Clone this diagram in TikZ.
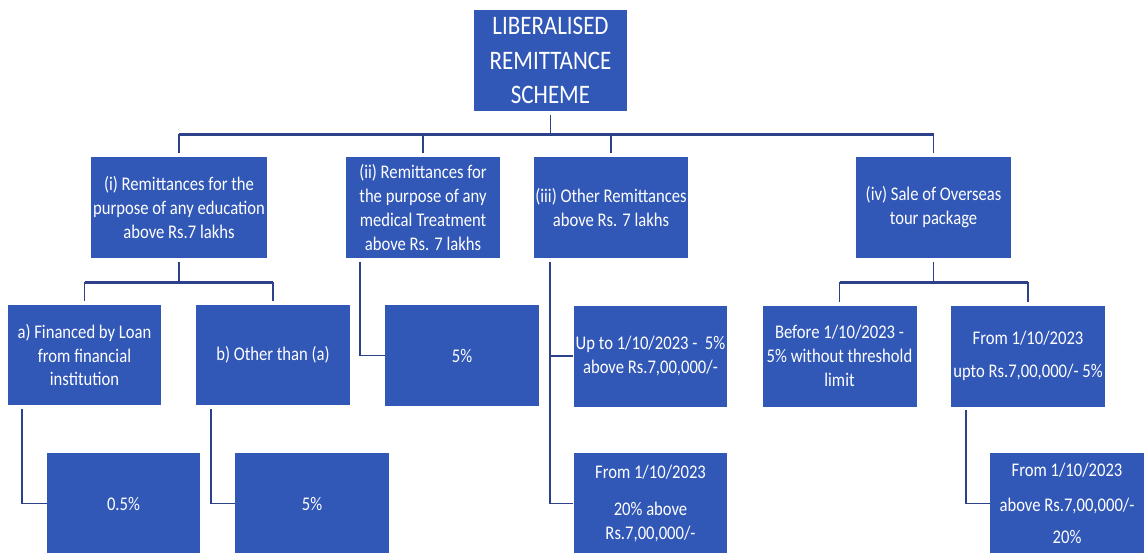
\documentclass[tikz,border=0pt]{standalone}
\usepackage{fontspec}
\setmainfont{Carlito}[FakeStretch=0.86]
\definecolor{boxblue}{HTML}{3157B7}
\definecolor{linenavy}{HTML}{2C4189}

\begin{document}
\begin{tikzpicture}[
  x=0.02cm, y=-0.02cm,
  font=\fontsize{11}{13.6}\selectfont,
  block/.style={fill=boxblue, text=white, align=center, inner sep=0pt, minimum width=3.08cm, minimum height=2.02cm},
  link/.style={draw=linenavy, line width=1pt},
  bus/.style={draw=linenavy, line width=1.7pt}
]
\clip (0,0) rectangle (1145,552);

% Top of the scheme and its four heads
\node[block, minimum width=3.06cm, font=\fontsize{15.2}{19.4}\selectfont] (lrs) at (550.5,60.5) {LIBERALISED\\REMITTANCE\\SCHEME};
\node[block, minimum width=3.52cm] (edu) at (179,207.5) {(i) Remittances for the\\purpose of any education\\above Rs.7 lakhs};
\node[block] (med) at (423,207.5) {(ii) Remittances for\\the purpose of any\\medical Treatment\\above Rs. 7 lakhs};
\node[block] (oth) at (611,207.5) {(iii) Other Remittances\\above Rs. 7 lakhs};
\node[block, minimum width=3.1cm] (tour) at (933.5,207.5) {(iv) Sale of Overseas\\tour package};

% Second row
\node[block, minimum width=3.06cm, minimum height=2cm] (loan) at (84.5,355) {a) Financed by Loan\\from financial\\institution};
\node[block, minimum height=2cm] (notloan) at (273,355) {b) Other than (a)};
\node[block] (medrate) at (462,355.5) {5\%};
\node[block] (othupto) at (650.5,356) {Up to 1/10/2023 -~~5\%\\above Rs.7,00,000/-};
\node[block] (tourold) at (839.5,356) {Before 1/10/2023 -\\5\% without threshold\\limit};
\node[block] (tourupto) at (1028,356) {From 1/10/2023\\[5pt]upto Rs.7,00,000/- 5\%};

% Third row (cut by the page edge)
\node[block, minimum width=3.06cm, minimum height=2.04cm] (loanrate) at (123.5,503.5) {0.5\%};
\node[block, minimum height=2.04cm] (notloanrate) at (312,503.5) {5\%};
\node[block, minimum height=2.04cm] (othfrom) at (650.5,503.5) {From 1/10/2023\\[7pt]20\% above\\Rs.7,00,000/-};
\node[block, minimum height=2.04cm] (tourfrom) at (1067,503.5) {From 1/10/2023\\[6pt]above Rs.7,00,000/-\\[5pt]20\%};

% Buses
\coordinate (topbus) at (550.5,134);
\coordinate (edubus) at (179,282);
\coordinate (tourbus) at (933.5,282);

\draw[link, shorten <=2pt] (lrs) -- (topbus);
\draw[bus] (edu |- topbus) -- (tour |- topbus);
\foreach \k in {edu,med,oth,tour}
  \draw[link, shorten >=2pt] (\k |- topbus) -- (\k);

\draw[link, shorten <=2pt] (edu) -- (edubus);
\draw[bus] (loan |- edubus) -- (notloan |- edubus);
\foreach \k in {loan,notloan}
  \draw[link, shorten >=2pt] (\k |- edubus) -- (\k);

\draw[link, shorten <=2pt] (tour) -- (tourbus);
\draw[bus] (tourold |- tourbus) -- (tourupto |- tourbus);
\foreach \k in {tourold,tourupto}
  \draw[link, shorten >=2pt] (\k |- tourbus) -- (\k);

% Elbow links
\draw[link, shorten <=2pt] ([xshift=2.8mm]med.south west) |- (medrate);
\draw[link, shorten <=2pt] ([xshift=3.2mm]oth.south west) |- (othupto);
\draw[link, shorten <=2pt] ([xshift=3.2mm]oth.south west) |- (othfrom);
\draw[link, shorten <=2pt] ([xshift=2.8mm]loan.south west) |- (loanrate);
\draw[link, shorten <=2pt] ([xshift=3mm]notloan.south west) |- (notloanrate);
\draw[link, shorten <=2pt] ([xshift=3mm]tourupto.south west) |- (tourfrom);

\end{tikzpicture}
\end{document}
